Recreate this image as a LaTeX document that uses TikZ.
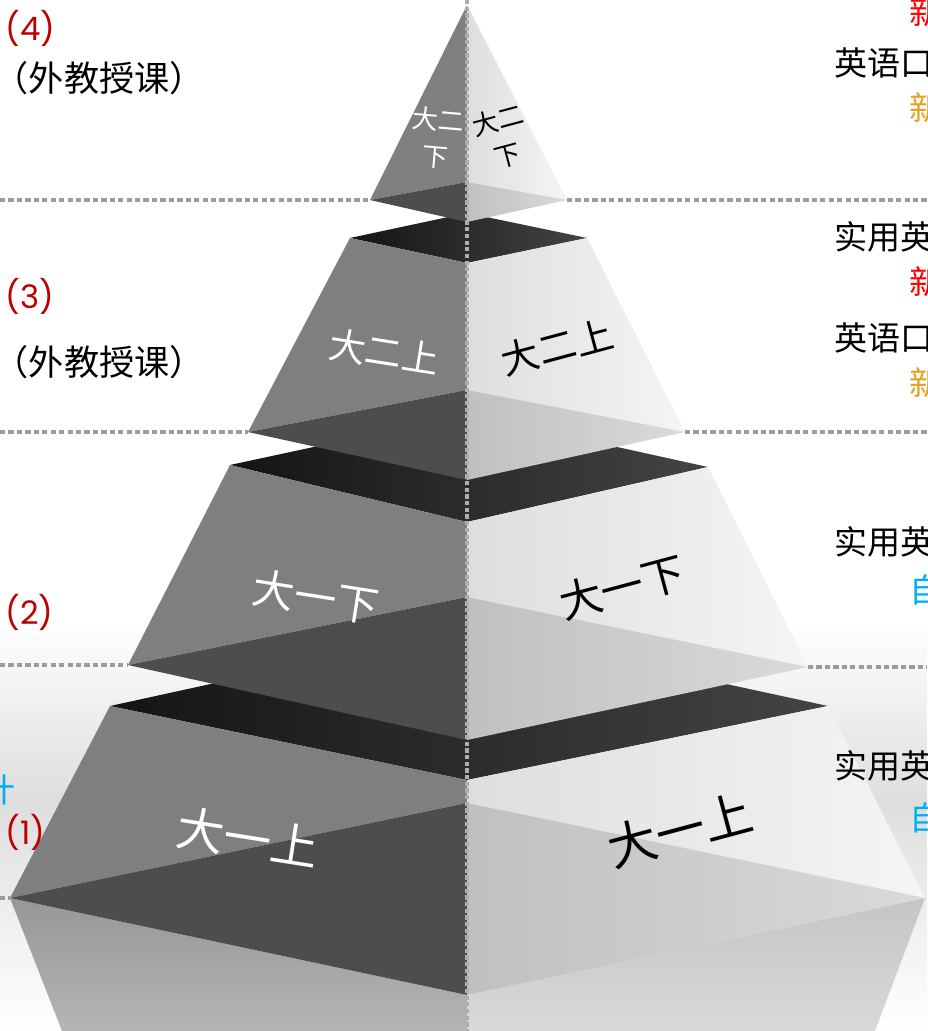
\documentclass[tikz,border=0pt]{standalone}
\usepackage{fontspec}
\setmainfont{Noto Sans CJK SC}
\newfontfamily\numfont{Poppins}
\definecolor{facegray}{HTML}{7F7F7F}
\definecolor{lowgray}{HTML}{4D4D4D}
\definecolor{topdark}{HTML}{141414}
\definecolor{toplight}{HTML}{444444}
\definecolor{lightA}{HTML}{DEDEDE}
\definecolor{lightB}{HTML}{F5F5F5}
\definecolor{lowA}{HTML}{C0C0C0}
\definecolor{lowB}{HTML}{DADADA}
\definecolor{skirtA}{HTML}{979797}
\definecolor{skirtB}{HTML}{B5B5B5}
\definecolor{skirtC}{HTML}{C5C5C5}
\definecolor{skirtD}{HTML}{D9D9D9}
\definecolor{floorgray}{HTML}{DEDEDE}
\definecolor{dotgray}{HTML}{9C9C9C}
\definecolor{axisgray}{HTML}{ADADAD}
\definecolor{numred}{HTML}{C00000}
\definecolor{newred}{HTML}{FF0000}
\definecolor{neworange}{HTML}{E8A01E}
\definecolor{selfblue}{HTML}{00B0F0}

\begin{document}
\begin{tikzpicture}[x=0.01cm,y=-0.01cm,
    leftface/.style={fill=facegray},
    leftlow/.style={fill=lowgray},
    topface/.style={left color=topdark,right color=toplight},
    rightface/.style={left color=lightA,right color=lightB},
    rightlow/.style={left color=lowA,right color=lowB},
    guide/.style={draw=dotgray,line width=1pt,dash pattern=on 1.5pt off 0.9pt},
    sidetext/.style={anchor=west,inner sep=0pt,font=\fontsize{9.4}{11}\selectfont},
    numtext/.style={anchor=west,inner sep=0pt,text=numred,font=\numfont\fontsize{9.2}{11}\selectfont},
    tierlabel/.style={inner sep=0pt,align=center}]

  \useasboundingbox (0,0) rectangle (927,1031);

  % floor
  \fill[white] (0,0) rectangle (927,620);
  \shade[top color=white,bottom color=floorgray] (0,620) rectangle (927,800);
  \shade[top color=floorgray,bottom color=white] (0,800) rectangle (927,1031);

  % tier corners
  \begin{scope}
    \coordinate (a4)  at (467,5);
    \coordinate (bl4) at (370,200);
    \coordinate (br4) at (567,200);
    \coordinate (m4)  at (467,182);
    \coordinate (d4)  at (467,222);

    \coordinate (tl3) at (350,238);
    \coordinate (tr3) at (587,238);
    \coordinate (k3)  at (467,213);
    \coordinate (f3)  at (467,263);
    \coordinate (bl3) at (248,432);
    \coordinate (br3) at (685,432);
    \coordinate (m3)  at (467,390);
    \coordinate (d3)  at (467,480);

    \coordinate (tl2) at (230,465);
    \coordinate (tr2) at (708,467);
    \coordinate (k2)  at (467,414);
    \coordinate (f2)  at (467,522);
    \coordinate (bl2) at (128,665);
    \coordinate (br2) at (808,667);
    \coordinate (m2)  at (467,597);
    \coordinate (d2)  at (467,740);

    \coordinate (tl1) at (110,706);
    \coordinate (tr1) at (828,706);
    \coordinate (k1)  at (467,628);
    \coordinate (f1)  at (467,780);
    \coordinate (bl1) at (10,898);
    \coordinate (br1) at (925,898);
    \coordinate (m1)  at (467,803);
    \coordinate (d1)  at (467,995);

    \coordinate (sl)  at (62,1031);
    \coordinate (sm)  at (467,1031);
    \coordinate (sr)  at (875,1031);
  \end{scope}

  % skirt
  \shade[top color=skirtA,bottom color=skirtB] (bl1) -- (d1) -- (sm) -- (sl) -- cycle;
  \shade[top color=skirtC,bottom color=skirtD] (d1) -- (br1) -- (sr) -- (sm) -- cycle;

  % tier 1
  \shade[topface] (tl1) -- (k1) -- (tr1) -- (f1) -- cycle;
  \fill[leftface] (f1) -- (tl1) -- (bl1) -- (m1) -- cycle;
  \fill[leftlow] (bl1) -- (m1) -- (d1) -- cycle;
  \shade[rightface] (f1) -- (tr1) -- (br1) -- (m1) -- cycle;
  \shade[rightlow] (m1) -- (br1) -- (d1) -- cycle;

  % tier 2
  \shade[topface] (tl2) -- (k2) -- (tr2) -- (f2) -- cycle;
  \fill[leftface] (f2) -- (tl2) -- (bl2) -- (m2) -- cycle;
  \fill[leftlow] (bl2) -- (m2) -- (d2) -- cycle;
  \shade[rightface] (f2) -- (tr2) -- (br2) -- (m2) -- cycle;
  \shade[rightlow] (m2) -- (br2) -- (d2) -- cycle;

  % tier 3
  \shade[topface] (tl3) -- (k3) -- (tr3) -- (f3) -- cycle;
  \fill[leftface] (f3) -- (tl3) -- (bl3) -- (m3) -- cycle;
  \fill[leftlow] (bl3) -- (m3) -- (d3) -- cycle;
  \shade[rightface] (f3) -- (tr3) -- (br3) -- (m3) -- cycle;
  \shade[rightlow] (m3) -- (br3) -- (d3) -- cycle;

  % tier 4
  \fill[leftface] (a4) -- (bl4) -- (m4) -- cycle;
  \fill[leftlow] (bl4) -- (m4) -- (d4) -- cycle;
  \shade[rightface] (a4) -- (br4) -- (m4) -- cycle;
  \shade[rightlow] (m4) -- (br4) -- (d4) -- cycle;

  % guides
  \coordinate (g4l) at (0,200);
  \coordinate (g4r) at (927,200);
  \coordinate (g3l) at (0,432);
  \coordinate (g3r) at (927,432);
  \coordinate (g2l) at (0,665);
  \coordinate (g2r) at (927,667);
  \coordinate (g1l) at (0,898);
  \coordinate (top) at (467,0);
  \draw[guide] (g4l) -- (bl4);
  \draw[guide] (br4) -- (g4r);
  \draw[guide] (g3l) -- (bl3);
  \draw[guide] (br3) -- (g3r);
  \draw[guide] (g2l) -- (bl2);
  \draw[guide] (br2) -- (g2r);
  \draw[guide] (g1l) -- (bl1);
  \draw[guide,draw=axisgray,dash pattern=on 1.2pt off 0.7pt] (top) -- (sm);

  % tier labels
  \begin{scope}[every node/.style={tierlabel}]
    \node[text=white,rotate=-5,font=\fontsize{7.4}{10.5}\selectfont] (l4l) at (437,138) {大二\\下};
    \node[rotate=15,font=\fontsize{7.4}{10.5}\selectfont] (l4r) at (503,138) {大二\\下};
    \node[text=white,rotate=-9,font=\fontsize{10.5}{12}\selectfont] (l3l) at (384,352) {大二上};
    \node[rotate=15,font=\fontsize{10.8}{12}\selectfont] (l3r) at (557,347) {大二上};
    \node[text=white,rotate=-9,font=\fontsize{12}{14}\selectfont] (l2l) at (316,597) {大一下};
    \node[rotate=15,font=\fontsize{12.2}{14}\selectfont] (l2r) at (622,587) {大一下};
    \node[text=white,rotate=-9,font=\fontsize{13.6}{16}\selectfont] (l1l) at (248,838) {大一上};
    \node[rotate=15,font=\fontsize{14}{16}\selectfont] (l1r) at (680,830) {大一上};
  \end{scope}

  % left texts
  \node[numtext] (n4) at (5,28) {(4)};
  \node[sidetext,font=\fontsize{10}{12}\selectfont] (w4) at (-7,78) {（外教授课）};
  \node[numtext] (n3) at (5,296) {(3)};
  \node[sidetext,font=\fontsize{10}{12}\selectfont] (w3) at (-7,362) {（外教授课）};
  \node[numtext] (n2) at (5,612) {(2)};
  \node[numtext] (n1) at (5,832) {(1)};
  \node[sidetext,anchor=east,text=selfblue] (b1) at (16,790) {计};

  % right texts
  \node[sidetext,text=newred] (r4a) at (909,12) {新};
  \node[sidetext] (r4b) at (834,63) {英语口};
  \node[sidetext,text=neworange] (r4c) at (909,108) {新};
  \node[sidetext] (r3a) at (834,237) {实用英};
  \node[sidetext,text=newred] (r3b) at (909,282) {新};
  \node[sidetext] (r3c) at (834,338) {英语口};
  \node[sidetext,text=neworange] (r3d) at (909,383) {新};
  \node[sidetext] (r2a) at (834,542) {实用英};
  \node[sidetext,text=selfblue] (r2b) at (909,590) {自};
  \node[sidetext] (r1a) at (834,766) {实用英};
  \node[sidetext,text=selfblue] (r1b) at (909,818) {自};

\end{tikzpicture}
\end{document}
